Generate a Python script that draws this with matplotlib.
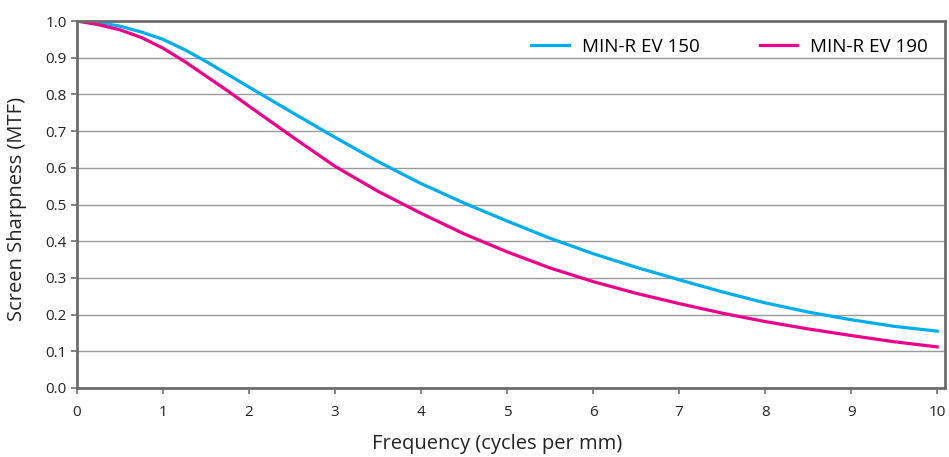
import numpy as np
import matplotlib
matplotlib.use('Agg')
from matplotlib import pyplot as plt

plt.rcParams['font.family'] = ['Open Sans', 'DejaVu Sans']

freq = [0, 0.25, 0.5, 0.75, 1, 1.25, 1.5, 1.75, 2, 2.5, 3, 3.5, 4, 4.5, 5, 5.5, 6, 6.5, 7, 7.5, 8, 8.5, 9, 9.5, 10]
ev150 = [1.0, 0.996, 0.986, 0.97, 0.95, 0.922, 0.89, 0.855, 0.82, 0.751, 0.683, 0.617, 0.557, 0.504, 0.455, 0.408, 0.366, 0.329, 0.295, 0.262, 0.232, 0.207, 0.186, 0.168, 0.155]
ev190 = [1.0, 0.99, 0.976, 0.955, 0.926, 0.89, 0.85, 0.81, 0.768, 0.685, 0.604, 0.536, 0.476, 0.42, 0.371, 0.327, 0.29, 0.258, 0.23, 0.204, 0.181, 0.161, 0.143, 0.126, 0.112]

fig = plt.figure(figsize=(9.49, 4.57), dpi=100)
ax = fig.add_axes([0.0811, 0.151, 0.9146, 0.803])

ax.plot(freq, ev150, color='#00AEEF', linewidth=2.3, label='MIN-R EV 150', solid_joinstyle='round')
ax.plot(freq, ev190, color='#EC008C', linewidth=2.3, label='MIN-R EV 190', solid_joinstyle='round')

ax.set_xlim(0, 10.09)
ax.set_ylim(0, 1.0)
ax.set_xticks(range(0, 11))
ax.set_yticks(np.arange(0, 1.01, 0.1))
ax.set_yticklabels(['{:.1f}'.format(v) for v in np.arange(0, 1.01, 0.1)])
ax.yaxis.grid(True, color='#999999', linewidth=1.0)
ax.set_axisbelow(True)

for s in ax.spines.values():
    s.set_color('#6d6d6d')
    s.set_linewidth(2)
ax.tick_params(axis='both', colors='#6d6d6d', labelcolor='#222222', labelsize=11, length=4, width=1.2)
ax.tick_params(axis='x', pad=8)

ax.set_xlabel('Frequency (cycles per mm)', fontsize=14.5, color='#222222')
ax.set_ylabel('Screen Sharpness (MTF)', fontsize=14.5, color='#222222')
ax.xaxis.set_label_coords(0.484, -0.125)
ax.yaxis.set_label_coords(-0.057, 0.488)

ax.legend(loc='upper right', ncol=2, frameon=False, fontsize=13.5, handlelength=2.0,
          columnspacing=3.2, borderaxespad=0.5, handletextpad=0.7)

plt.savefig('out.png', dpi=100)
